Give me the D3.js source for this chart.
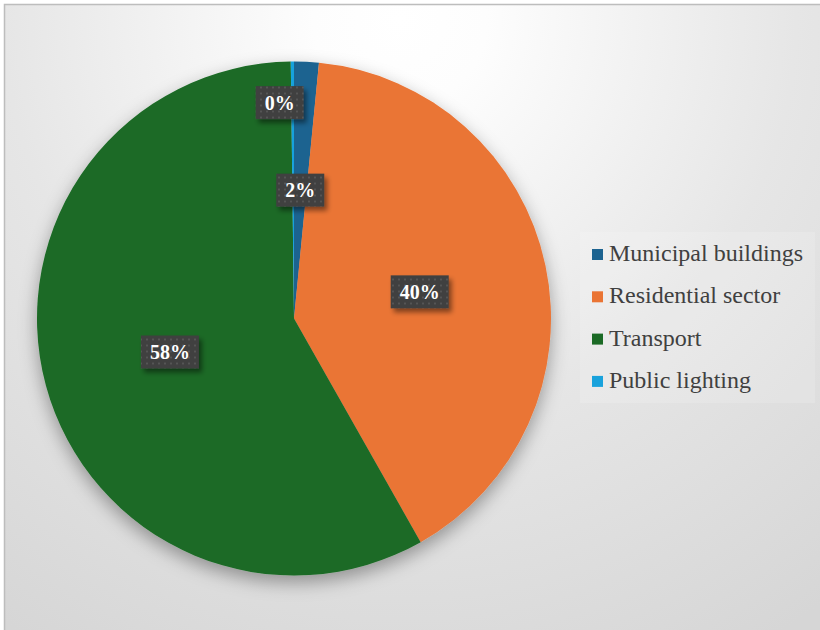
<!DOCTYPE html>
<html>
<head>
<meta charset="utf-8">
<script src="https://cdn.jsdelivr.net/npm/d3@7"></script>
<style>
  html, body { margin: 0; padding: 0; background: #ffffff; }
  svg { display: block; }
</style>
</head>
<body>
<svg id="chart" width="820" height="630"></svg>
<script>
// Energy consumption by sector (percent of total)
const categories = ["Municipal buildings", "Residential sector", "Transport", "Public lighting"];
const shares = [1.55, 40.25, 58.0, 0.2];
const colors = ["#1c6390", "#ea7434", "#1b6a25", "#19a2dc"];

const W = 820, H = 630;
const SERIF = "Liberation Serif";
const svg = d3.select("#chart");
const defs = svg.append("defs");

// Chart area background: white near the top, fading to light grey
const bg = defs.append("radialGradient")
  .attr("id", "bgGrad").attr("gradientUnits", "userSpaceOnUse")
  .attr("cx", 400).attr("cy", 20).attr("r", 720);
bg.append("stop").attr("offset", 0).attr("stop-color", "#ffffff");
bg.append("stop").attr("offset", 0.12).attr("stop-color", "#fdfdfd");
bg.append("stop").attr("offset", 0.55).attr("stop-color", "#e6e6e6");
bg.append("stop").attr("offset", 1).attr("stop-color", "#d6d6d6");

// Soft shadow beneath the pie
const pieShadow = defs.append("filter").attr("id", "pieShadow")
  .attr("x", "-20%").attr("y", "-20%").attr("width", "140%").attr("height", "140%");
pieShadow.append("feDropShadow")
  .attr("dx", 0).attr("dy", 7).attr("stdDeviation", 9)
  .attr("flood-color", "#000").attr("flood-opacity", 0.35);

// Shadow for the data label boxes
const lblShadow = defs.append("filter").attr("id", "lblShadow")
  .attr("x", "-30%").attr("y", "-30%").attr("width", "170%").attr("height", "170%");
lblShadow.append("feDropShadow")
  .attr("dx", 3).attr("dy", 4).attr("stdDeviation", 2.5)
  .attr("flood-color", "#000").attr("flood-opacity", 0.45);

// Dotted fill for the label boxes
const pat = defs.append("pattern").attr("id", "dots")
  .attr("patternUnits", "userSpaceOnUse").attr("width", 6).attr("height", 6);
pat.append("rect").attr("width", 6).attr("height", 6).attr("fill", "#404040");
pat.append("rect").attr("x", 2).attr("y", 2).attr("width", 2).attr("height", 2).attr("fill", "#555555");

// Frame
svg.append("rect")
  .attr("x", 4.5).attr("y", 4.5).attr("width", W + 20).attr("height", H + 20)
  .attr("fill", "url(#bgGrad)").attr("stroke", "#bdbdbd").attr("stroke-width", 1.5);

// Pie
const cx = 294, cy = 318.5, R = 257;
const data = categories.map((c, i) => ({ name: c, value: shares[i], color: colors[i] }));
const total = d3.sum(shares);
const pie = d3.pie().sort(null).value(d => d.value);
const arcs = pie(data);
const arc = d3.arc().innerRadius(0).outerRadius(R);

const g = svg.append("g").attr("transform", `translate(${cx},${cy})`);
g.append("g").attr("filter", "url(#pieShadow)")
  .selectAll("path").data(arcs).join("path")
  .attr("d", arc)
  .attr("fill", d => d.data.color);

// Data labels
const fmt = d3.format(".0%");
const lg = g.append("g");
const placed = [];
arcs.forEach(d => {
  const txt = fmt(d.data.value / total);
  const mid = (d.startAngle + d.endAngle) / 2;
  let rr = R * 0.5;
  let x = Math.sin(mid) * rr, y = -Math.cos(mid) * rr;
  const t = lg.append("text").text(txt)
    .style("font-family", SERIF).style("font-size", "20px").style("font-weight", "bold")
    .attr("fill", "#ffffff")
    .attr("text-anchor", "middle");
  const w = t.node().getComputedTextLength() + 18, h = 33;
  const overlaps = (px, py) => placed.some(p => Math.abs(p.x - px) < (p.w + w) / 2 && Math.abs(p.y - py) < (p.h + h) / 2);
  if (overlaps(x, y)) {
    // push crowded labels outward and to the side of the thin slice
    rr = R * 0.84;
    x = Math.sin(mid) * rr - 13;
    y = -Math.cos(mid) * rr;
  }
  placed.push({ x, y, w, h });
  lg.insert("rect", () => t.node())
    .attr("x", x - w / 2).attr("y", y - h / 2).attr("width", w).attr("height", h)
    .attr("fill", "url(#dots)").attr("filter", "url(#lblShadow)");
  t.attr("x", x).attr("y", y + 7);
});

// Legend
const legX = 592, legY = 249, rowH = 42.3;
svg.append("rect")
  .attr("x", 580).attr("y", 232).attr("width", 235).attr("height", 171)
  .attr("fill", "#ffffff").attr("fill-opacity", 0.15);
const leg = svg.append("g");
const rows = leg.selectAll("g").data(data).join("g")
  .attr("transform", (d, i) => `translate(${legX},${legY + i * rowH})`);
rows.append("rect").attr("width", 11).attr("height", 11).attr("fill", d => d.color);
rows.append("text")
  .attr("x", 17).attr("y", 12)
  .style("font-family", SERIF).style("font-size", "24px")
  .attr("fill", "#404040")
  .text(d => d.name);
</script>
</body>
</html>
